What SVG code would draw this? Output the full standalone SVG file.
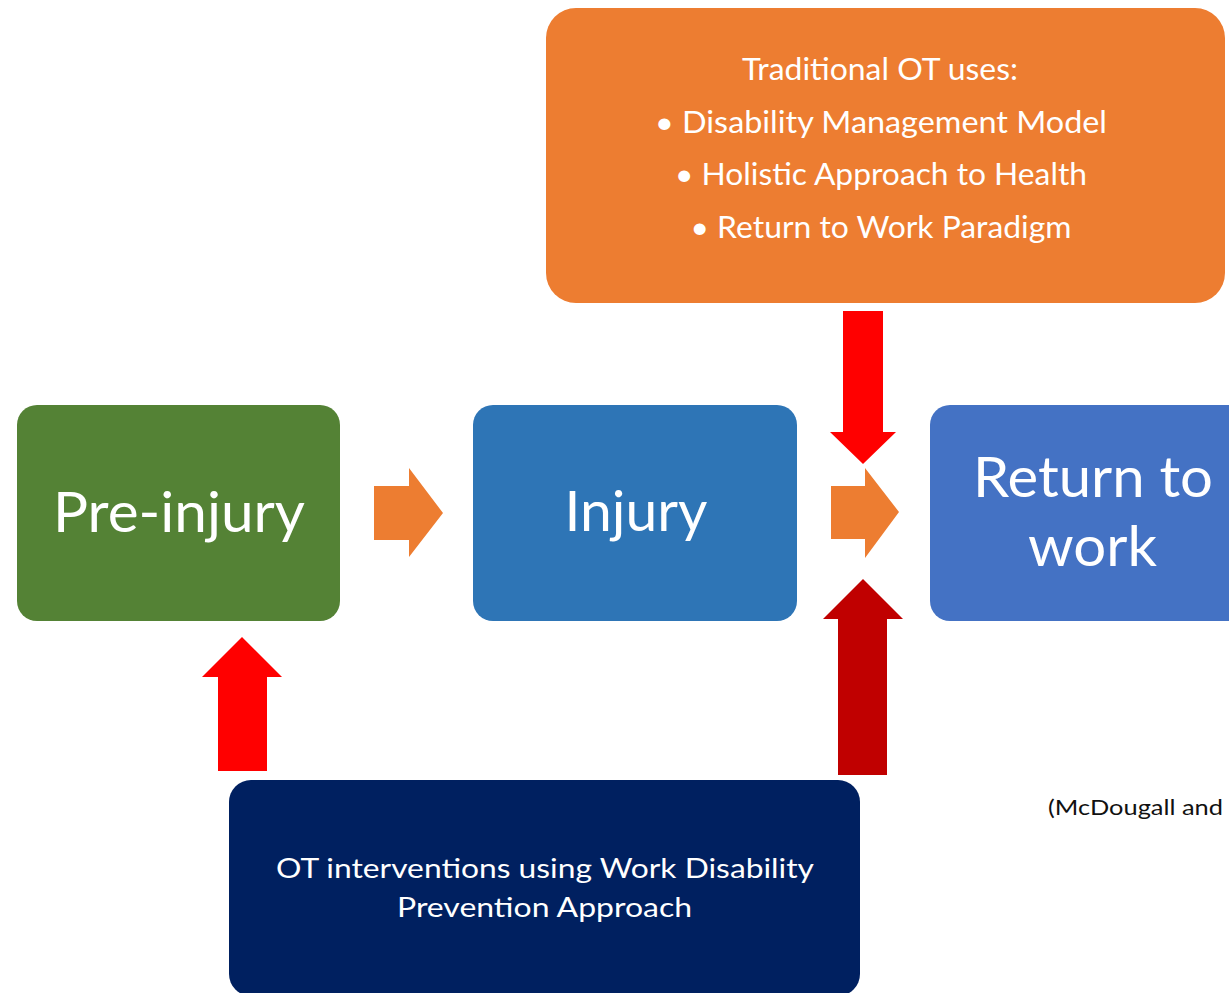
<svg xmlns="http://www.w3.org/2000/svg" width="1229" height="993" viewBox="0 0 1229 993">
<style>
.lbl{font-family:Lato,"Open Sans","Liberation Sans",sans-serif;fill:#ffffff;text-anchor:middle}
.big{font-size:57px}
.mid{font-size:30px}
.sm{font-size:26px}
.cite{font-family:Lato,"Open Sans","Liberation Sans",sans-serif;font-size:21px;fill:#111111}
</style>
<rect width="1229" height="993" fill="#ffffff"/>
<g id="traditional-ot">
<rect x="546" y="8" width="679" height="295" rx="30" fill="#ED7D31"/>
<text class="lbl mid" x="880" y="80" textLength="276" lengthAdjust="spacingAndGlyphs">Traditional OT uses:</text>
<text class="lbl mid" x="881" y="133" textLength="452" lengthAdjust="spacingAndGlyphs">•  Disability Management Model</text>
<text class="lbl mid" x="881" y="185" textLength="412" lengthAdjust="spacingAndGlyphs">•  Holistic Approach to Health</text>
<text class="lbl mid" x="881" y="238" textLength="381" lengthAdjust="spacingAndGlyphs">•  Return to Work Paradigm</text>
</g>
<g id="pre-injury">
<rect x="17" y="405" width="323" height="216" rx="20" fill="#548235"/>
<text class="lbl big" x="179" y="532" textLength="252" lengthAdjust="spacingAndGlyphs">Pre-injury</text>
</g>
<g id="injury">
<rect x="473" y="405" width="324" height="216" rx="20" fill="#2E75B6"/>
<text class="lbl big" x="636" y="531" textLength="143" lengthAdjust="spacingAndGlyphs">Injury</text>
</g>
<g id="return-to-work">
<rect x="930" y="405" width="324" height="216" rx="20" fill="#4472C4"/>
<text class="lbl big" x="1093" y="497" textLength="240" lengthAdjust="spacingAndGlyphs">Return to</text>
<text class="lbl big" x="1092.5" y="566" textLength="129" lengthAdjust="spacingAndGlyphs">work</text>
</g>
<g id="ot-interventions">
<rect x="229" y="780" width="631" height="216" rx="22" fill="#002060"/>
<text class="lbl sm" x="545" y="878" textLength="538" lengthAdjust="spacingAndGlyphs">OT interventions using Work Disability</text>
<text class="lbl sm" x="544.5" y="917" textLength="295" lengthAdjust="spacingAndGlyphs">Prevention Approach</text>
</g>
<g id="connectors">
<polygon points="374,486 409,486 409,468 443,513 409,557 409,540 374,540" fill="#ED7D31"/>
<polygon points="831,486 865,486 865,468 899,512 865,558 865,539 831,539" fill="#ED7D31"/>
<polygon points="843,311 883,311 883,432 896,432 863,464 830,432 843,432" fill="#FF0000"/>
<polygon points="863,579 903,619 887,619 887,775 838,775 838,619 823,619" fill="#C00000"/>
<polygon points="242,637 282,677 267,677 267,771 218,771 218,677 202,677" fill="#FF0000"/>
</g>
<g id="citation">
<text class="cite" x="1048" y="815" textLength="175" lengthAdjust="spacingAndGlyphs">(McDougall and</text>
</g>
</svg>
